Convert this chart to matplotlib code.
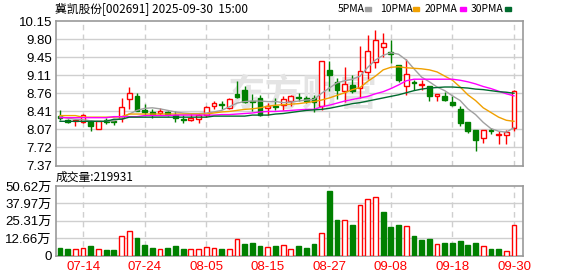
import numpy as np
import pandas as pd
import matplotlib
matplotlib.use('Agg')
import matplotlib.pyplot as plt
from matplotlib.patches import Rectangle

plt.rcParams['font.family'] = ['Liberation Sans', 'Noto Sans CJK SC']

# trading days 2025-07-09 .. 2025-09-30
dates = pd.bdate_range('2025-07-09', '2025-09-30').strftime('%m-%d').tolist()

opens = [8.33, 8.25, 8.22, 8.21, 8.22, 8.08, 8.24, 8.23, 8.29, 8.64,
         8.70, 8.43, 8.40, 8.38, 8.39, 8.34, 8.26, 8.24, 8.26, 8.35,
         8.52, 8.56, 8.48, 8.75, 8.83, 8.61, 8.67, 8.47, 8.52, 8.53,
         8.62, 8.69, 8.66, 8.66, 8.52, 9.21, 8.97, 8.81, 8.91, 8.86,
         9.16, 9.37, 9.65, 9.56, 9.30, 8.90, 8.97, 8.92, 8.89, 8.70,
         8.71, 8.60, 8.46, 8.21, 8.05, 7.89, 8.05, 7.95, 7.95, 8.10]
highs = [8.43, 8.27, 8.26, 8.37, 8.25, 8.23, 8.28, 8.26, 8.67, 8.88,
         8.76, 8.55, 8.45, 8.48, 8.42, 8.41, 8.35, 8.38, 8.38, 8.51,
         8.62, 8.62, 8.67, 9.00, 8.89, 8.75, 8.73, 8.57, 8.67, 8.70,
         8.73, 8.76, 8.70, 8.73, 9.38, 9.38, 9.05, 9.27, 9.11, 9.66,
         9.89, 9.98, 9.92, 9.79, 9.30, 9.41, 9.02, 9.02, 8.90, 8.75,
         8.79, 8.70, 8.51, 8.21, 8.05, 8.05, 8.10, 8.03, 8.05, 8.82]
lows = [8.24, 8.18, 8.13, 8.18, 8.03, 8.08, 8.17, 8.14, 8.21, 8.45,
        8.41, 8.35, 8.29, 8.35, 8.32, 8.20, 8.19, 8.22, 8.19, 8.31,
        8.46, 8.46, 8.45, 8.67, 8.57, 8.41, 8.32, 8.35, 8.43, 8.43,
        8.52, 8.62, 8.58, 8.40, 8.43, 8.80, 8.64, 8.60, 8.76, 8.67,
        9.03, 9.24, 9.45, 9.34, 8.98, 8.73, 8.83, 8.83, 8.61, 8.62,
        8.62, 8.51, 8.13, 8.00, 7.64, 7.80, 7.97, 7.78, 7.78, 8.03]
closes = [8.29, 8.21, 8.25, 8.34, 8.13, 8.22, 8.21, 8.20, 8.50, 8.76,
          8.41, 8.39, 8.36, 8.42, 8.37, 8.28, 8.25, 8.28, 8.34, 8.50,
          8.57, 8.54, 8.64, 8.69, 8.60, 8.59, 8.35, 8.52, 8.50, 8.65,
          8.71, 8.67, 8.62, 8.60, 9.38, 9.11, 8.83, 8.94, 8.81, 9.18,
          9.57, 9.78, 9.73, 9.51, 9.02, 9.13, 8.95, 8.93, 8.70, 8.75,
          8.63, 8.53, 8.18, 8.03, 7.87, 8.05, 8.03, 7.98, 8.02, 8.81]

# volume in 万手
volume = [5.4, 4.4, 4.9, 5.1, 6.6, 4.9, 3.7, 3.7, 13.9, 17.6,
          12.7, 7.3, 5.6, 4.9, 5.1, 6.6, 4.4, 4.4, 4.4, 6.4,
          5.6, 4.4, 4.9, 12.2, 8.1, 9.0, 6.6, 6.4, 6.6, 7.8,
          4.9, 6.6, 5.1, 8.1, 16.1, 46.9, 25.7, 26.2, 22.0, 36.7,
          40.8, 42.3, 31.5, 20.5, 22.0, 21.8, 13.9, 11.0, 11.7, 8.6,
          8.8, 8.8, 10.3, 7.3, 8.8, 7.1, 4.4, 4.4, 3.4, 21.9931]
vol_up = [0, 0, 1, 1, 0, 1, 0, 0, 1, 1,
          0, 0, 0, 1, 0, 0, 0, 1, 1, 1,
          1, 0, 1, 1, 0, 0, 0, 1, 0, 1,
          1, 0, 0, 0, 1, 0, 0, 1, 0, 1,
          1, 1, 0, 0, 0, 1, 0, 0, 0, 1,
          0, 0, 0, 0, 0, 1, 0, 0, 1, 1]

ma5 = [8.31, 8.28, 8.26, 8.25, 8.23, 8.22, 8.22, 8.23, 8.28, 8.36,
       8.43, 8.47, 8.48, 8.46, 8.43, 8.40, 8.38, 8.37, 8.37, 8.38,
       8.40, 8.43, 8.50, 8.57, 8.60, 8.61, 8.61, 8.60, 8.60, 8.58,
       8.59, 8.61, 8.63, 8.64, 8.76, 8.86, 8.96, 9.00, 9.03, 9.09,
       9.26, 9.40, 9.49, 9.54, 9.51, 9.40, 9.23, 9.07, 8.98, 8.88,
       8.81, 8.71, 8.62, 8.46, 8.35, 8.20, 8.08, 8.03, 8.01, 8.10]
ma10 = [8.33, 8.33, 8.33, 8.30, 8.30, 8.30, 8.30, 8.30, 8.31, 8.36,
        8.36, 8.36, 8.36, 8.36, 8.36, 8.36, 8.36, 8.36, 8.36, 8.36,
        8.38, 8.40, 8.41, 8.43, 8.45, 8.46, 8.48, 8.51, 8.53, 8.54,
        8.55, 8.56, 8.58, 8.60, 8.63, 8.67, 8.72, 8.77, 8.83, 8.87,
        8.99, 9.09, 9.21, 9.26, 9.27, 9.25, 9.24, 9.23, 9.21, 9.17,
        9.09, 9.01, 8.88, 8.73, 8.62, 8.48, 8.39, 8.30, 8.24, 8.22]
ma20 = [8.29, 8.29, 8.29, 8.29, 8.29, 8.29, 8.29, 8.31, 8.31, 8.31,
        8.31, 8.33, 8.33, 8.33, 8.33, 8.34, 8.34, 8.34, 8.34, 8.34,
        8.34, 8.35, 8.35, 8.36, 8.37, 8.38, 8.40, 8.41, 8.41, 8.42,
        8.43, 8.44, 8.45, 8.45, 8.50, 8.53, 8.57, 8.61, 8.64, 8.67,
        8.70, 8.75, 8.79, 8.85, 8.92, 9.00, 9.03, 9.03, 9.03, 9.03,
        9.03, 9.03, 9.01, 8.98, 8.94, 8.89, 8.85, 8.80, 8.75, 8.71]
ma30 = [8.22, 8.22, 8.22, 8.22, 8.22, 8.22, 8.22, 8.26, 8.26, 8.30,
        8.30, 8.30, 8.30, 8.30, 8.30, 8.30, 8.30, 8.30, 8.30, 8.30,
        8.32, 8.32, 8.32, 8.32, 8.32, 8.34, 8.34, 8.34, 8.36, 8.37,
        8.39, 8.41, 8.43, 8.44, 8.45, 8.47, 8.50, 8.53, 8.56, 8.58,
        8.61, 8.64, 8.67, 8.70, 8.73, 8.77, 8.81, 8.84, 8.86, 8.87,
        8.88, 8.88, 8.87, 8.86, 8.84, 8.83, 8.81, 8.79, 8.78, 8.76]

price_ticks = [7.37, 7.72, 8.07, 8.41, 8.76, 9.11, 9.45, 9.80, 10.15]
price_labels = ['7.37', '7.72', '8.07', '8.41', '8.76', '9.11', '9.45', '9.80', '10.15']
vol_ticks = [0, 12.66, 25.31, 37.97, 50.62]
vol_labels = ['0', '12.66万', '25.31万', '37.97万', '50.62万']
date_ticks = [3, 11, 19, 27, 35, 43, 51, 59]

RED = '#ff0000'
GREEN = '#008000'
GRID = '#cfcfcf'
FRAME = '#999999'

W, H = 578, 276
fig = plt.figure(figsize=(W / 100, H / 100), dpi=100)
ax1 = fig.add_axes([56 / W, 1 - 165.5 / H, 466.7 / W, 144.5 / H])
ax2 = fig.add_axes([56 / W, 1 - 255.5 / H, 466.7 / W, 69.5 / H])

x = np.arange(len(dates))
o = np.array(opens); c = np.array(closes)
up = c >= o
bw = 0.62

# candles
for i in x:
    col = RED if up[i] else GREEN
    ax1.vlines(i, lows[i], highs[i], color=col, lw=1, zorder=3)
    bot = min(o[i], c[i])
    h = max(abs(c[i] - o[i]), 0.008)
    ax1.add_patch(Rectangle((i - bw / 2, bot), bw, h,
                            facecolor='white' if up[i] else col,
                            edgecolor=col, lw=1, zorder=4))

ax1.plot(x, ma5, color='#a0a0a0', lw=1, zorder=5)
ax1.plot(x, ma10, color='#f0a000', lw=1, zorder=5)
ax1.plot(x, ma20, color='#ff00ff', lw=1, zorder=5)
ax1.plot(x, ma30, color='#006b2e', lw=1, zorder=5)

# faint watermark
ax1.text(31.5, 8.72, '东方财富', fontsize=27, color='#e4e4e4', ha='center', va='center',
         family=['Noto Sans CJK SC'], fontweight='bold', zorder=2)

# volume
for i in x:
    col = RED if vol_up[i] else GREEN
    ax2.bar(i, volume[i], width=bw, facecolor='white' if vol_up[i] else col,
            edgecolor=col, lw=1, zorder=3)

xl = (-0.52, 60.13)
for ax, ticks, labels, lim in [(ax1, price_ticks, price_labels, (7.37, 10.15)),
                               (ax2, vol_ticks, vol_labels, (0, 50.62))]:
    ax.set_xlim(*xl)
    ax.set_ylim(*lim)
    ax.set_yticks(ticks)
    ax.set_yticklabels(labels, fontsize=9.5, color='black')
    ax.tick_params(axis='y', length=0, pad=3)
    for t in ticks[1:-1]:
        ax.axhline(t, color=GRID, lw=1, zorder=1)
    for t in date_ticks:
        ax.axvline(t, color=GRID, lw=1, ls=(0, (4, 3)), zorder=1)
    for s in ax.spines.values():
        s.set_color(FRAME)
        s.set_linewidth(1.2)

ax1.set_xticks([])
ax2.set_xticks(date_ticks)
ax2.set_xticklabels([dates[i] for i in date_ticks], fontsize=9.5, color=RED)
ax2.tick_params(axis='x', length=0, pad=4)

# header texts
fig.text(55 / W, 1 - 9 / H, '冀凯股份[002691] 2025-09-30  15:00', fontsize=8.5,
         family=['Noto Sans CJK SC'], va='center', ha='left')
fig.text(56 / W, 1 - 177 / H, '成交量:219931', fontsize=8.5,
         family=['Noto Sans CJK SC'], va='center', ha='left')

legend = [('5PMA', 338, '#a0a0a0', 365), ('10PMA', 380, '#f0a000', 413),
          ('20PMA', 425, '#ff00ff', 460), ('30PMA', 471, '#006b2e', 505)]
for name, tx, col, mx in legend:
    fig.text(tx / W, 1 - 9 / H, name, fontsize=7.5, va='center', ha='left',
             family=['Noto Sans CJK SC'])
    fig.add_artist(Rectangle((mx / W, 1 - 10.5 / H), 6 / W, 3 / H,
                             transform=fig.transFigure, color=col))

fig.savefig('out.png', dpi=100)
